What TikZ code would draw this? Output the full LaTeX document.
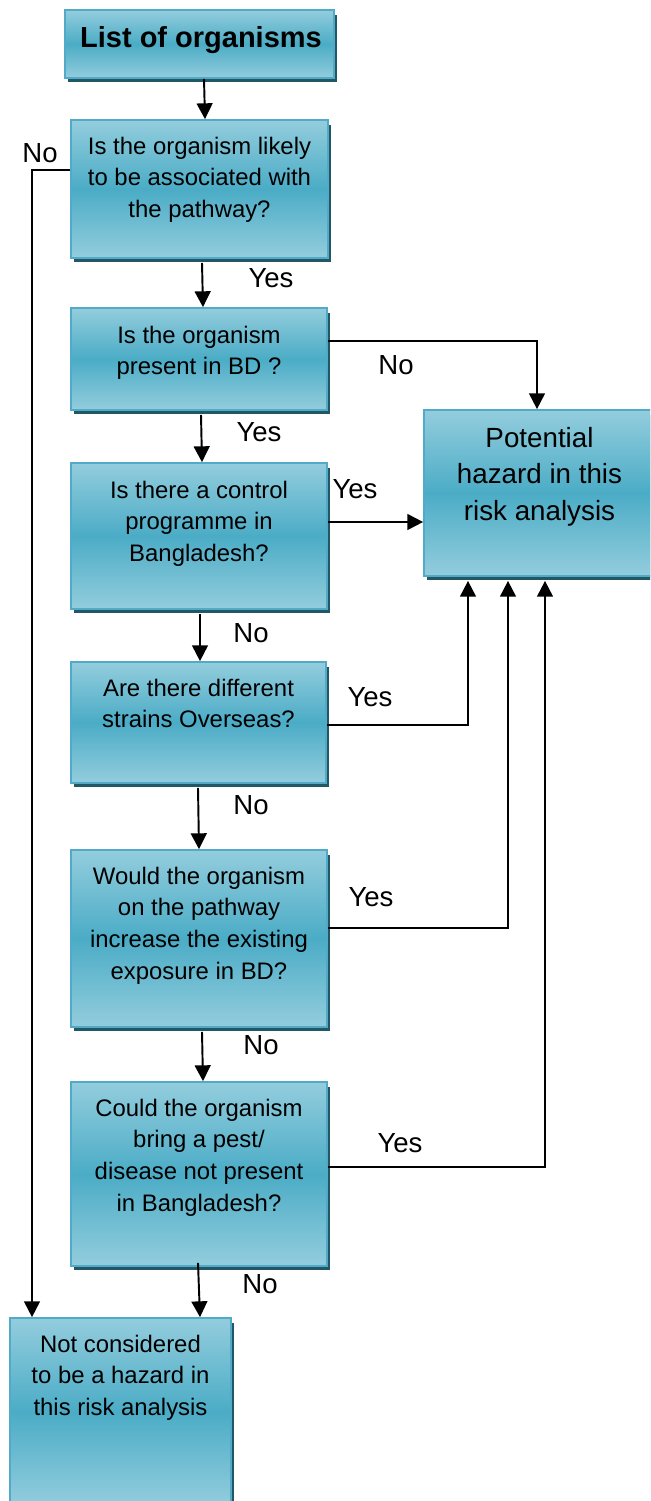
\documentclass[tikz,border=0pt]{standalone}
\usepackage{fontspec}
\setmainfont{Liberation Sans}
\usetikzlibrary{arrows.meta,calc,shadows}
\definecolor{lb}{RGB}{147,205,221}
\definecolor{mb}{RGB}{75,172,198}
\definecolor{bd}{RGB}{82,170,200}
\definecolor{shc}{RGB}{33,88,102}
\begin{document}
\begin{tikzpicture}[x=0.02cm,y=-0.02cm,
 box/.style={draw=bd, line width=1pt, top color=lb, bottom color=lb, middle color=mb, inner sep=0pt,
   drop shadow={shadow xshift=0.06cm,shadow yshift=-0.09cm,fill=shc,opacity=1}},
 txt/.style={align=center, inner sep=0pt, anchor=north, font=\fontsize{13.6}{18}\selectfont},
 bigtxt/.style={align=center, inner sep=0pt, anchor=north, font=\fontsize{15.8}{20.7}\selectfont},
 lbl/.style={anchor=base, inner sep=0pt, font=\fontsize{15.7}{19}\selectfont},
 arr/.style={-{Triangle[length=9pt,width=9pt]}, line width=1.1pt}]
\useasboundingbox (0,0) rectangle (650,1501);
\clip (0,0) rectangle (650,1501);

% boxes
\node[box, minimum width=5.38cm, minimum height=1.36cm] (b1) at (199.5,44) {};
\node[box, minimum width=5.14cm, minimum height=2.76cm] (b2) at (199.5,189) {};
\node[box, minimum width=5.12cm, minimum height=2.04cm] (b3) at (199,359) {};
\node[box, minimum width=5.12cm, minimum height=2.92cm] (b4) at (199,536) {};
\node[box, minimum width=5.10cm, minimum height=2.42cm] (b5) at (198.5,722.5) {};
\node[box, minimum width=5.12cm, minimum height=3.54cm] (b6) at (199,938.5) {};
\node[box, minimum width=5.12cm, minimum height=3.68cm] (b7) at (199,1174) {};
\node[box, minimum width=4.42cm, minimum height=3.76cm] (b8) at (120.5,1412) {};
\node[box, minimum width=4.62cm, minimum height=3.32cm] (P) at (539.5,493) {};

% texts
\node[anchor=base, inner sep=0pt, font=\fontsize{16.5}{20}\bfseries\selectfont] (t1) at (201,48) {List of organisms};
\node[txt] (t2) at ($(b2.north)+(0,12.5)$) {\strut Is the organism likely\\to be associated with\\the pathway?};
\node[txt] (t3) at ($(b3.north)+(0,13.5)$) {\strut Is the organism\\present in BD ?};
\node[txt] (t4) at ($(b4.north)+(0,13.5)$) {\strut Is there a control\\programme in\\Bangladesh?};
\node[txt] (t5) at ($(b5.north)+(0,12.5)$) {\strut Are there different\\strains Overseas?};
\node[txt] (t6) at ($(b6.north)+(0,12.5)$) {\strut Would the organism\\on the pathway\\increase the existing\\exposure in BD?};
\node[txt] (t7) at ($(b7.north)+(0,12.5)$) {\strut Could the organism\\bring a pest/\\disease not present\\in Bangladesh?};
\node[txt] (t8) at ($(b8.north)+(0,12.5)$) {\strut Not considered\\to be a hazard in\\this risk analysis};
\node[bigtxt] (tP) at ($(P.north)+(0,12.5)$) {\strut Potential\\hazard in this\\risk analysis};

% vertical flow
\draw[arr] (b1.south -| 204,0) -- (b2.north -| 205,0);
\draw[arr] ($(b2.south -| 202,0)+(0,4)$) -- (b3.north -| 203,0);
\draw[arr] ($(b3.south -| 201,0)+(0,4)$) -- (b4.north -| 202,0);
\draw[arr] ($(b4.south -| 200,0)+(0,4)$) -- (b5.north -| 200,0);
\draw[arr] ($(b5.south -| 198,0)+(0,4)$) -- (b6.north -| 199,0);
\draw[arr] ($(b6.south -| 202,0)+(0,4)$) -- (b7.north -| 203,0);
\draw[arr] ($(b7.south -| 198,0)+(0,-4)$) -- (b8.north -| 200,0);

% side connectors
\draw[arr] (b2.west |- 0,170) -| (b8.north -| 32,0);
\draw[arr] (b3.east |- 0,341) -| (P.north -| 537,0);
\draw[arr] (b4.east |- 0,522) -- (P.west |- 0,522);
\draw[arr] (b5.east |- 0,725) -| ($(P.south -| 468,0)+(0,4)$);
\draw[arr] (b6.east |- 0,928) -| ($(P.south -| 508,0)+(0,4)$);
\draw[arr] (b7.east |- 0,1167) -| ($(P.south -| 545,0)+(0,4)$);

% labels
\node[lbl] (l1) at (40,162) {No};
\node[lbl] (l2) at (271,287) {Yes};
\node[lbl] (l3) at (396,374) {No};
\node[lbl] (l4) at (259,441) {Yes};
\node[lbl] (l5) at (355,498) {Yes};
\node[lbl] (l6) at (251,642) {No};
\node[lbl] (l7) at (370,706) {Yes};
\node[lbl] (l8) at (251,814) {No};
\node[lbl] (l9) at (371,906) {Yes};
\node[lbl] (l10) at (261,1054) {No};
\node[lbl] (l11) at (400,1152) {Yes};
\node[lbl] (l12) at (260,1293) {No};
\end{tikzpicture}
\end{document}
